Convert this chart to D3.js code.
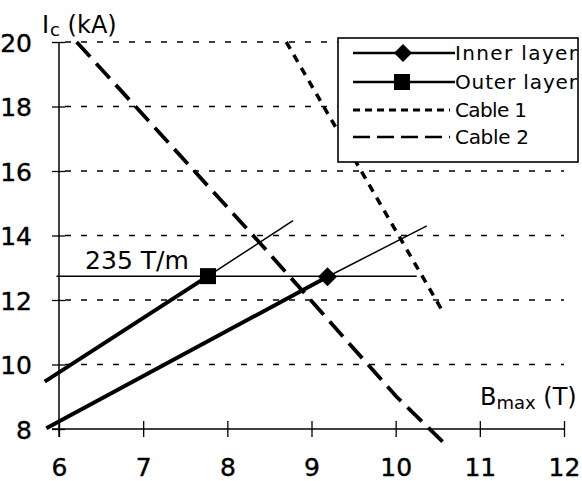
<!DOCTYPE html>
<html><head><meta charset="utf-8">
<script src="https://cdn.jsdelivr.net/npm/d3@7"></script>
<style>
html,body{margin:0;padding:0;background:#fff;}
svg{display:block;font-family:"DejaVu Sans",Verdana,sans-serif;}
</style></head>
<body>
<svg id="chart" width="582" height="481"></svg>
<script>
// ---- data ----
const xTicks = [6, 7, 8, 9, 10, 11, 12];
const yTicks = [8, 10, 12, 14, 16, 18, 20];
const gridValues = [10, 12, 14, 16, 18, 20];
const innerLayer = [[5.85, 8.02], [9.19, 12.72]];
const innerExt = [[9.19, 12.72], [10.37, 14.30]];
const outerLayer = [[5.83, 9.47], [7.77, 12.74]];
const outerExt = [[7.77, 12.74], [8.78, 14.46]];
const cable1 = [[8.70, 20.0], [10.56, 11.64]];
const cable2 = [[6.21, 20.0], [8.39, 13.76], [10.01, 9.0], [10.56, 7.6]];
const gradientLevel = 12.74;
const gradientRange = [5.97, 10.25];
const gradientLabel = "235 T/m";
const legendLabels = ["Inner layer", "Outer layer", "Cable 1", "Cable 2"];

// ---- scales ----
const svg = d3.select("#chart");
const x = d3.scaleLinear().domain([6, 12]).range([59, 564]);
const y = d3.scaleLinear().domain([8, 20]).range([429, 42]);
const line = d3.line().x(d => x(d[0])).y(d => y(d[1]));
const fmt = d3.format("d");

// grid
svg.append("g").selectAll("line").data(gridValues).join("line")
  .attr("x1", x(6) + 6).attr("x2", x(12)).attr("y1", d => y(d)).attr("y2", d => y(d))
  .attr("stroke", "#000").attr("stroke-width", 1.3).attr("stroke-dasharray", "6,10");

// x axis
const gx = svg.append("g").attr("transform", `translate(0,${y(8)})`)
  .call(d3.axisBottom(x).tickValues(xTicks).tickFormat(fmt).tickSizeOuter(0).tickSize(8).tickPadding(0));
gx.select(".domain").attr("stroke-width", 1.5).attr("d", `M${x(6) - 7},0H${x(12)}`);
gx.selectAll(".tick line").attr("y1", -8).attr("y2", 8).attr("stroke-width", 1.3);
gx.selectAll(".tick text").attr("y", 47).attr("dy", 0)
  .attr("font-size", 25).attr("font-family", "DejaVu Sans, sans-serif").attr("fill", "#000")
  .attr("stroke", "#000").attr("stroke-width", 0.4);

// y axis
const gy = svg.append("g").attr("transform", `translate(${x(6)},0)`)
  .call(d3.axisLeft(y).tickValues(yTicks).tickFormat(fmt).tickSizeOuter(0).tickSize(7).tickPadding(20));
gy.select(".domain").attr("stroke-width", 1.5).attr("d", `M0,${y(20)}V${y(8) + 8}`);
gy.selectAll(".tick line").attr("x1", -7).attr("x2", 6).attr("stroke-width", 1.3);
gy.selectAll(".tick text").attr("dy", "0.36em")
  .attr("font-size", 25).attr("font-family", "DejaVu Sans, sans-serif").attr("fill", "#000")
  .attr("stroke", "#000").attr("stroke-width", 0.4);

// gradient line
svg.append("line")
  .attr("x1", x(gradientRange[0])).attr("x2", x(gradientRange[1]))
  .attr("y1", y(gradientLevel)).attr("y2", y(gradientLevel))
  .attr("stroke", "#000").attr("stroke-width", 1.5);
svg.append("text").attr("x", x(6.31)).attr("y", y(gradientLevel) - 7)
  .attr("font-size", 25).text(gradientLabel);

// cables
svg.append("path").attr("d", line(cable1)).attr("fill", "none").attr("stroke", "#000")
  .attr("stroke-width", 3.5).attr("stroke-dasharray", "8,7");
svg.append("path").attr("d", line(cable2)).attr("fill", "none").attr("stroke", "#000")
  .attr("stroke-width", 3.8).attr("stroke-dasharray", "20,9");

// layers
[[innerLayer, 4], [innerExt, 1.5], [outerLayer, 4], [outerExt, 1.5]].forEach(([d, w]) => {
  svg.append("path").attr("d", line(d)).attr("fill", "none").attr("stroke", "#000").attr("stroke-width", w);
});
const diamond = (cx, cy, r) => `M${cx},${cy - r}L${cx + r},${cy}L${cx},${cy + r}L${cx - r},${cy}Z`;
svg.append("path").attr("d", diamond(x(innerLayer[1][0]), y(innerLayer[1][1]), 9.5)).attr("fill", "#000");
svg.append("rect").attr("x", x(outerLayer[1][0]) - 8).attr("y", y(outerLayer[1][1]) - 8)
  .attr("width", 16).attr("height", 16).attr("fill", "#000");

// legend
const lg = svg.append("g");
lg.append("rect").attr("x", 338).attr("y", 38).attr("width", 240).attr("height", 124)
  .attr("fill", "#fff").attr("stroke", "#000").attr("stroke-width", 1.6);
const rowsY = [53, 82, 110, 137];
const textLen = [122, 122, 72, 74];
rowsY.forEach((ry, i) => {
  const l = lg.append("line").attr("x1", 353).attr("x2", i < 2 ? 455 : 450).attr("y1", ry).attr("y2", ry)
    .attr("stroke", "#000").attr("stroke-width", i < 2 ? 2.6 : (i === 2 ? 3 : 2.6));
  if (i === 2) l.attr("stroke-dasharray", "7,5");
  if (i === 3) l.attr("stroke-dasharray", "17,7");
  lg.append("text").attr("x", 455).attr("y", ry + 7).attr("font-size", 20)
    .attr("textLength", textLen[i]).attr("lengthAdjust", "spacing").text(legendLabels[i]);
});
lg.append("path").attr("d", diamond(403, rowsY[0], 9)).attr("fill", "#000");
lg.append("rect").attr("x", 394).attr("y", rowsY[1] - 8).attr("width", 16).attr("height", 16).attr("fill", "#000");

// axis titles
const yt = svg.append("text").attr("x", 42).attr("y", 33).attr("font-size", 24);
yt.append("tspan").text("I");
yt.append("tspan").attr("font-size", 18).attr("dy", 3).attr("dx", 1).text("c");
yt.append("tspan").attr("dy", -3).text(" (kA)");
const xt = svg.append("text").attr("x", 480).attr("y", 405).attr("font-size", 24);
xt.append("tspan").text("B");
xt.append("tspan").attr("font-size", 18).attr("dy", 4).text("max");
xt.append("tspan").attr("dy", -4).text(" (T)");
</script>
</body></html>
